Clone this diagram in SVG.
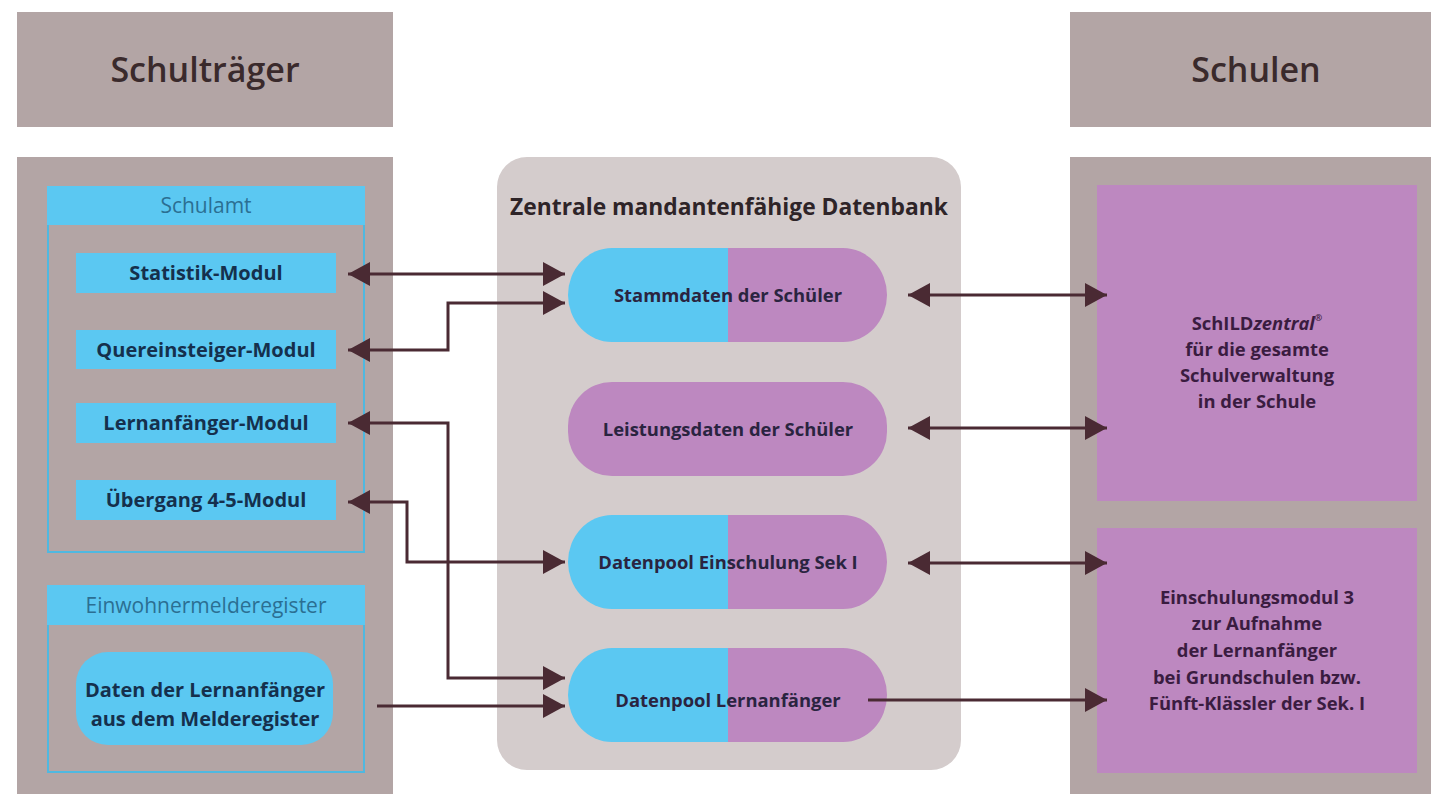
<svg xmlns="http://www.w3.org/2000/svg" width="1431" height="794" viewBox="0 0 1431 794">
<style>
.panel{fill:#b3a5a5}
.center{fill:#d4cccc}
.cyan{fill:#5bc8f2}
.purple{fill:#bd88c0}
.frame{fill:none;stroke:#4fb8e0;stroke-width:2}
.hdr{font-family:"Open Sans","Liberation Sans",sans-serif;font-weight:600;font-size:34px;fill:#3a2a2c;text-anchor:middle}
.sub{font-family:"Open Sans","Liberation Sans",sans-serif;font-size:21px;fill:#2b6f92;text-anchor:middle}
.mod{font-family:"Open Sans","Liberation Sans",sans-serif;font-weight:700;font-size:20px;fill:#15304d;text-anchor:middle}
.title{font-family:"Open Sans","Liberation Sans",sans-serif;font-weight:700;font-size:22.8px;fill:#2e2428;text-anchor:middle}
.pill{font-family:"Open Sans","Liberation Sans",sans-serif;font-weight:700;font-size:18.4px;fill:#2a2440;text-anchor:middle}
.rt{font-family:"Open Sans","Liberation Sans",sans-serif;font-weight:700;font-size:18.4px;fill:#3a1c40;text-anchor:middle}
.con{fill:none;stroke:#4a2a33;stroke-width:3}
</style>
<defs>
<marker id="ah" markerUnits="userSpaceOnUse" markerWidth="24" markerHeight="26" refX="22" refY="12" orient="auto-start-reverse">
<path d="M0,0 L22,12 L0,24 Z" fill="#4a2a33"/>
</marker>
</defs>
<rect width="1431" height="794" fill="#ffffff"/>

<g id="schultraeger-header">
<rect class="panel" x="17" y="12" width="376" height="115"/>
<text class="hdr" x="205" y="82">Schulträger</text>
</g>
<g id="schultraeger-panel">
<rect class="panel" x="17" y="157" width="376" height="637"/>
</g>
<g id="schulamt">
<rect class="frame" x="48" y="200" width="316" height="352"/>
<rect class="cyan" x="47" y="186" width="318" height="39"/>
<text class="sub" x="206" y="213">Schulamt</text>
</g>
<g id="statistik">
<rect class="cyan" x="76" y="253" width="260" height="40"/>
<text class="mod" x="206" y="280">Statistik-Modul</text>
</g>
<g id="quereinsteiger">
<rect class="cyan" x="76" y="330" width="260" height="39"/>
<text class="mod" x="206" y="357">Quereinsteiger-Modul</text>
</g>
<g id="lernanfaenger-modul">
<rect class="cyan" x="76" y="403" width="260" height="40"/>
<text class="mod" x="206" y="430">Lernanfänger-Modul</text>
</g>
<g id="uebergang">
<rect class="cyan" x="76" y="480" width="260" height="40"/>
<text class="mod" x="206" y="507">Übergang 4-5-Modul</text>
</g>
<g id="einwohnermelderegister">
<rect class="frame" x="48" y="600" width="316" height="172"/>
<rect class="cyan" x="47" y="585" width="318" height="40"/>
<text class="sub" x="206" y="613">Einwohnermelderegister</text>
</g>
<g id="daten-lernanfaenger">
<rect class="cyan" x="76" y="652" width="257" height="93" rx="32"/>
<text class="mod" x="205" y="697">Daten der Lernanfänger</text>
<text class="mod" x="205" y="726">aus dem Melderegister</text>
</g>

<g id="datenbank">
<rect class="center" x="497" y="157" width="464" height="613" rx="30"/>
<text class="title" x="729" y="215">Zentrale mandantenfähige Datenbank</text>
</g>
<g id="stammdaten">
<path class="cyan" d="M728,248 H612 A44,47 0 0 0 568,295 A44,47 0 0 0 612,342 H728 Z"/>
<path class="purple" d="M728,248 H843 A44,47 0 0 1 887,295 A44,47 0 0 1 843,342 H728 Z"/>
<text class="pill" x="728" y="302">Stammdaten der Schüler</text>
</g>
<g id="leistungsdaten">
<rect class="purple" x="568" y="382" width="319" height="94" rx="44"/>
<text class="pill" x="728" y="436">Leistungsdaten der Schüler</text>
</g>
<g id="datenpool-einschulung">
<path class="cyan" d="M728,515 H612 A44,47 0 0 0 568,562 A44,47 0 0 0 612,609 H728 Z"/>
<path class="purple" d="M728,515 H843 A44,47 0 0 1 887,562 A44,47 0 0 1 843,609 H728 Z"/>
<text class="pill" x="728" y="569">Datenpool Einschulung Sek I</text>
</g>
<g id="datenpool-lernanfaenger">
<path class="cyan" d="M728,648 H612 A44,47 0 0 0 568,695 A44,47 0 0 0 612,742 H728 Z"/>
<path class="purple" d="M728,648 H843 A44,47 0 0 1 887,695 A44,47 0 0 1 843,742 H728 Z"/>
<text class="pill" x="728" y="707">Datenpool Lernanfänger</text>
</g>

<g id="schulen-header">
<rect class="panel" x="1070" y="12" width="361" height="115"/>
<text class="hdr" x="1256" y="82">Schulen</text>
</g>
<g id="schulen-panel">
<rect class="panel" x="1070" y="157" width="361" height="637"/>
</g>
<g id="schild">
<rect class="purple" x="1097" y="185" width="320" height="316"/>
<text class="rt" x="1257" y="330">SchILD<tspan font-style="italic">zentral</tspan><tspan font-size="9" dy="-9">®</tspan></text>
<text class="rt" x="1257" y="356">für die gesamte</text>
<text class="rt" x="1257" y="382">Schulverwaltung</text>
<text class="rt" x="1257" y="408">in der Schule</text>
</g>
<g id="einschulungsmodul">
<rect class="purple" x="1097" y="528" width="320" height="245"/>
<text class="rt" x="1257" y="604">Einschulungsmodul 3</text>
<text class="rt" x="1257" y="630">zur Aufnahme</text>
<text class="rt" x="1257" y="657">der Lernanfänger</text>
<text class="rt" x="1257" y="684">bei Grundschulen bzw.</text>
<text class="rt" x="1257" y="710">Fünft-Klässler der Sek. I</text>
</g>

<g id="connectors">
<path class="con" d="M348,274 H565" marker-start="url(#ah)" marker-end="url(#ah)"/>
<path class="con" d="M348,350 H448 V303 H565" marker-start="url(#ah)" marker-end="url(#ah)"/>
<path class="con" d="M348,423 H448 V678 H565" marker-start="url(#ah)" marker-end="url(#ah)"/>
<path class="con" d="M348,502 H407 V562 H565" marker-start="url(#ah)" marker-end="url(#ah)"/>
<path class="con" d="M377,706 H565" marker-end="url(#ah)"/>
<path class="con" d="M908,295 H1107" marker-start="url(#ah)" marker-end="url(#ah)"/>
<path class="con" d="M908,428 H1107" marker-start="url(#ah)" marker-end="url(#ah)"/>
<path class="con" d="M908,563 H1107" marker-start="url(#ah)" marker-end="url(#ah)"/>
<path class="con" d="M868,700 H1107" marker-end="url(#ah)"/>
</g>
</svg>
